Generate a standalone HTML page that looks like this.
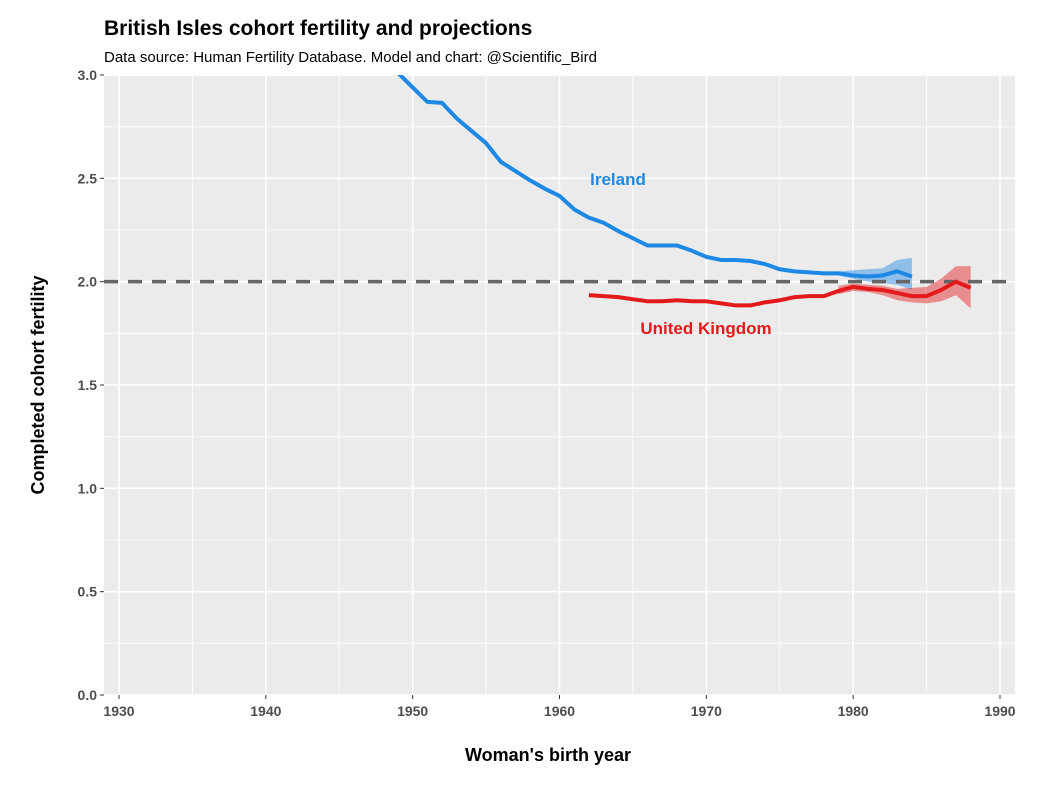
<!DOCTYPE html>
<html><head><meta charset="utf-8"><style>
body{margin:0;background:#fff;font-family:"Liberation Sans",sans-serif}
</style></head><body>
<svg width="1044" height="787" xmlns="http://www.w3.org/2000/svg" font-family="Liberation Sans, sans-serif">
<text x="104" y="35" font-size="21" font-weight="bold" fill="#000">British Isles cohort fertility and projections</text>
<text x="104" y="62" font-size="15" fill="#000">Data source: Human Fertility Database.  Model and chart: @Scientific_Bird</text>
<rect x="104" y="75" width="911" height="620" fill="#ebebeb"/>
<g id="grid"></g><g id="marks"></g><g id="axes"></g>
<text x="548" y="761" font-size="18" font-weight="bold" text-anchor="middle">Woman's birth year</text>
<text transform="translate(44,385) rotate(-90)" font-size="18" font-weight="bold" text-anchor="middle">Completed cohort fertility</text>
</svg>
<script>
const irelandYears=[1949,1950,1951,1952,1953,1954,1955,1956,1957,1958,1959,1960,1961,1962,1963,1964,1965,1966,1967,1968,1969,1970,1971,1972,1973,1974,1975,1976,1977,1978,1979,1980,1981,1982,1983,1984];
const irelandValues=[3.01,2.94,2.87,2.865,2.79,2.73,2.67,2.58,2.535,2.49,2.45,2.415,2.35,2.31,2.285,2.245,2.21,2.175,2.175,2.175,2.15,2.12,2.105,2.105,2.10,2.085,2.06,2.05,2.045,2.04,2.04,2.03,2.025,2.03,2.05,2.025];
const irelandBandYears=[1978,1979,1980,1981,1982,1983,1984];
const irelandUpper=[2.05,2.05,2.055,2.06,2.065,2.105,2.115];
const irelandLower=[2.035,2.03,2.015,2.0,1.995,1.985,1.96];
const ukYears=[1962,1963,1964,1965,1966,1967,1968,1969,1970,1971,1972,1973,1974,1975,1976,1977,1978,1979,1980,1981,1982,1983,1984,1985,1986,1987,1988];
const ukValues=[1.935,1.93,1.925,1.915,1.905,1.905,1.91,1.905,1.905,1.895,1.885,1.885,1.90,1.91,1.925,1.93,1.93,1.955,1.975,1.965,1.96,1.945,1.93,1.93,1.96,2.0,1.97];
const ukBandYears=[1979,1980,1981,1982,1983,1984,1985,1986,1987,1988];
const ukUpper=[1.98,1.99,1.985,1.98,1.965,1.97,1.975,2.015,2.075,2.075];
const ukLower=[1.94,1.955,1.95,1.935,1.91,1.9,1.895,1.905,1.935,1.87];
const xTicks=[1930,1940,1950,1960,1970,1980,1990];
const yTicks=[0.0,0.5,1.0,1.5,2.0,2.5,3.0];
const replacement=2.0;
const X=v=>119+(v-1930)*(881/60);
const Y=v=>695-v*(620/3);
const NS="http://www.w3.org/2000/svg";
function mk(tag,attrs,parent){const e=document.createElementNS(NS,tag);for(const k in attrs)e.setAttribute(k,attrs[k]);parent.appendChild(e);return e;}
const grid=document.getElementById('grid'),marks=document.getElementById('marks'),axes=document.getElementById('axes');
for(let i=0;i<xTicks.length;i++){
 const x=X(xTicks[i]);
 const l=mk('line',{x1:x,x2:x,y1:75,y2:695,stroke:'#fff','stroke-width':1.6},grid);
 
 if(i<xTicks.length-1){const xm=X(xTicks[i]+5);const m=mk('line',{x1:xm,x2:xm,y1:75,y2:695,stroke:'#fff','stroke-width':0.8},grid);}
 mk('line',{x1:x,x2:x,y1:695,y2:699,stroke:'#333','stroke-width':1},axes);
 const t=mk('text',{x:x,y:716,'font-size':14,'font-weight':'bold',fill:'#4d4d4d','text-anchor':'middle'},axes);t.textContent=xTicks[i];
 
}
for(let i=0;i<yTicks.length;i++){
 const y=Y(yTicks[i]);
 const l=mk('line',{x1:104,x2:1015,y1:y,y2:y,stroke:'#fff','stroke-width':1.6},grid);
 
 if(i<yTicks.length-1){const ym=Y(yTicks[i]+0.25);const m=mk('line',{x1:104,x2:1015,y1:ym,y2:ym,stroke:'#fff','stroke-width':0.8},grid);}
 mk('line',{x1:100,x2:104,y1:y,y2:y,stroke:'#333','stroke-width':1},axes);
 const t=mk('text',{x:97,y:y+5,'font-size':14,'font-weight':'bold',fill:'#4d4d4d','text-anchor':'end'},axes);t.textContent=yTicks[i].toFixed(1);
 
}
function band(ys,up,lo,color,name){
 let d='M'+ys.map((y,i)=>X(y)+','+Y(up[i])).join('L');
 for(let i=ys.length-1;i>=0;i--)d+='L'+X(ys[i])+','+Y(lo[i]);
 const p=mk('path',{d:d+'Z',fill:color,opacity:0.45},marks);
 
}
function line(ys,vs,color,name){
 const pts=ys.map((y,i)=>X(y)+','+Y(vs[i])).join(' ');
 const p=mk('polyline',{points:pts,fill:'none',stroke:color,'stroke-width':4,'stroke-linejoin':'round'},marks);
 
}
const clip=mk('clipPath',{id:'c'},document.querySelector('svg'));mk('rect',{x:104,y:75,width:911,height:620},clip);
marks.setAttribute('clip-path','url(#c)');
band(irelandBandYears,irelandUpper,irelandLower,'#1e88e5','ireland-band');
band(ukBandYears,ukUpper,ukLower,'#e31a1c','uk-band');
const rl=mk('line',{x1:104,x2:1015,y1:Y(replacement),y2:Y(replacement),stroke:'#666','stroke-width':3.5,'stroke-dasharray':'14,10'},marks);

line(irelandYears,irelandValues,'#1e88e5','ireland-line');
line(ukYears,ukValues,'#e31a1c','uk-line');
const l1=mk('text',{x:618,y:185,'font-size':17,'font-weight':'bold',fill:'#1e88e5','text-anchor':'middle'},axes);l1.textContent='Ireland';

const l2=mk('text',{x:706,y:334,'font-size':17,'font-weight':'bold',fill:'#e31a1c','text-anchor':'middle'},axes);l2.textContent='United Kingdom';

</script>
</body></html>
